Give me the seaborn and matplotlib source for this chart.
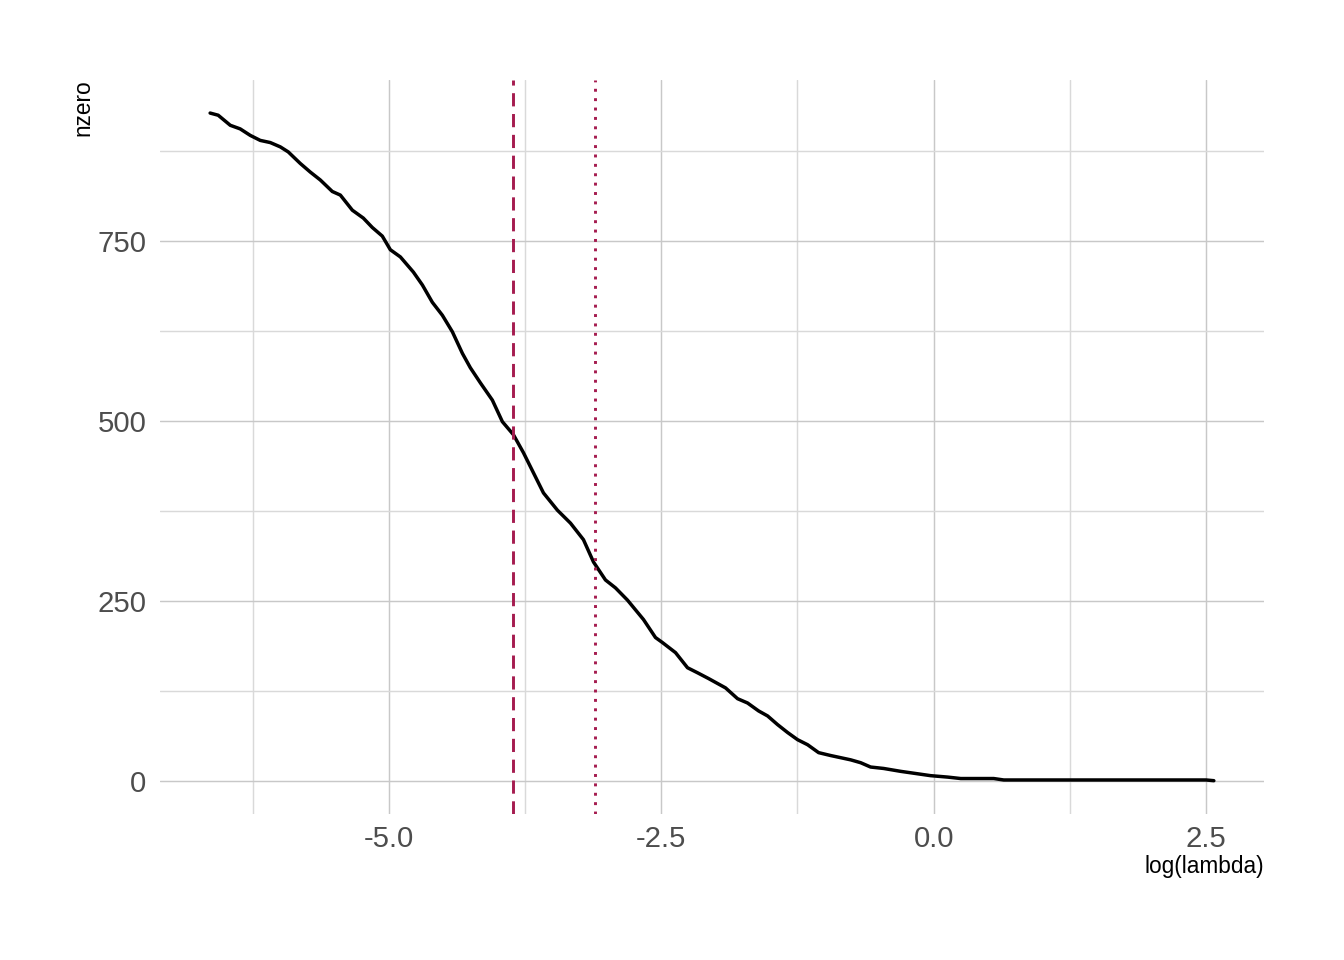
import matplotlib
matplotlib.use("Agg")
import matplotlib.pyplot as plt
import seaborn as sns
import pandas as pd
from matplotlib.ticker import FixedLocator

log_lambda = [-6.640, -6.566, -6.455, -6.364, -6.272, -6.180, -6.088, -5.996, -5.923, -5.813,
              -5.721, -5.629, -5.519, -5.445, -5.335, -5.234, -5.152, -5.060, -4.986, -4.894,
              -4.775, -4.692, -4.601, -4.509, -4.417, -4.325, -4.252, -4.160, -4.050, -3.958,
              -3.857, -3.765, -3.673, -3.581, -3.453, -3.333, -3.214, -3.122, -3.012, -2.920,
              -2.810, -2.663, -2.553, -2.489, -2.369, -2.259, -2.167, -2.066, -1.910, -1.800,
              -1.708, -1.607, -1.524, -1.433, -1.341, -1.249, -1.157, -1.056, -0.946, -0.854,
              -0.762, -0.670, -0.579, -0.459, -0.303, -0.211, -0.028, 0.129, 0.248, 0.551,
              0.643, 0.799, 2.500, 2.571]
nzero = [928, 925, 911, 906, 897, 890, 887, 881, 874, 858,
         846, 835, 819, 814, 793, 782, 769, 757, 738, 728,
         707, 689, 665, 647, 624, 594, 574, 553, 529, 499,
         481, 456, 428, 400, 376, 358, 335, 304, 279, 268,
         251, 224, 199, 192, 178, 157, 150, 142, 129, 114,
         108, 97, 90, 78, 67, 57, 50, 39, 35, 32,
         29, 25, 19, 17, 13, 11, 7, 5, 3, 3,
         1, 1, 1, 0]
lambda_min = -3.857
lambda_1se = -3.104

x_major = [-5.0, -2.5, 0.0, 2.5]
x_labels = ["-5.0", "-2.5", "0.0", "2.5"]
x_minor = [-6.25, -3.75, -1.25, 1.25]
y_major = [0, 250, 500, 750]
y_labels = ["0", "250", "500", "750"]
y_minor = [125, 375, 625, 875]

df = pd.DataFrame({"log(lambda)": log_lambda, "nzero": nzero})

sns.set_theme(style="white")
plt.rcParams['font.family'] = ['Liberation Sans Narrow', 'Liberation Sans', 'DejaVu Sans']

fig, ax = plt.subplots(figsize=(7, 5), dpi=192)
fig.subplots_adjust(left=0.119, right=0.9405, top=0.917, bottom=0.152)

sns.lineplot(data=df, x="log(lambda)", y="nzero", color="black", linewidth=1.3, ax=ax, zorder=3)
ax.axvline(lambda_min, color="#A51C4F", linestyle=(0, (4.5, 2.6)), linewidth=1.1, zorder=4)
ax.axvline(lambda_1se, color="#A51C4F", linestyle=(0, (1, 2.2)), linewidth=1.1, zorder=4)

xr = max(log_lambda) - min(log_lambda)
ax.set_xlim(min(log_lambda) - 0.05 * xr, max(log_lambda) + 0.05 * xr)
yr = max(nzero) - min(nzero)
ax.set_ylim(min(nzero) - 0.05 * yr, max(nzero) + 0.05 * yr)

ax.xaxis.set_major_locator(FixedLocator(x_major))
ax.xaxis.set_minor_locator(FixedLocator(x_minor))
ax.yaxis.set_major_locator(FixedLocator(y_major))
ax.yaxis.set_minor_locator(FixedLocator(y_minor))
ax.set_xticklabels(x_labels)
ax.set_yticklabels(y_labels)

ax.grid(which="major", color="#c8c8c8", linewidth=0.55)
ax.grid(which="minor", color="#d9d9d9", linewidth=0.55)
ax.set_axisbelow(True)
for s in ax.spines.values():
    s.set_visible(False)
ax.tick_params(which="both", length=0, labelsize=11, labelcolor="#4d4d4d")
ax.tick_params(axis="x", pad=4)
ax.tick_params(axis="y", pad=5)

ax.set_xlabel("log(lambda)", fontsize=8.5, color="black", loc="right", labelpad=1)
ax.set_ylabel("nzero", fontsize=8.5, color="black", loc="top", labelpad=1)

fig.savefig("out.png", dpi=192, facecolor="white")
